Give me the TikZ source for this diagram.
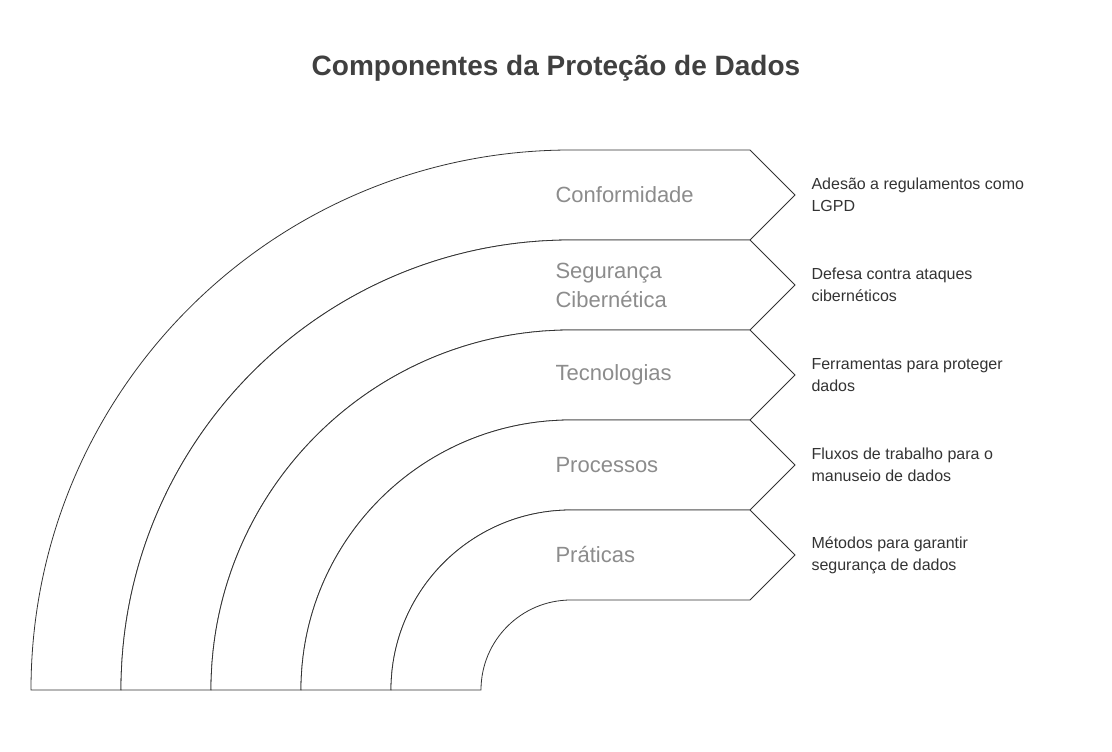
\documentclass[tikz,border=0pt]{standalone}
\usepackage{fontspec}
\setmainfont{Liberation Sans}
\begin{document}
\begin{tikzpicture}[x=1pt,y=1pt,
		band/.style={draw=black!80, line width=0.8pt, fill=white},
		bandlabel/.style={anchor=west, align=left, text=black!45, font=\fontsize{22}{29}\selectfont},
		desc/.style={anchor=west, align=left, text=black!80, font=\fontsize{16}{22}\selectfont}]
		\useasboundingbox (0,0) rectangle (1112,752);

		\node[font=\bfseries\fontsize{28}{34}\selectfont, text=black!75] (title) at (556,684) {Componentes da Proteção de Dados};

		\foreach \r in {540,450,360,270,180}
			\draw[band] (571-\r,62) arc (180:90:\r) -- (750,62+\r) -- (795,62+\r-45)
				-- (750,62+\r-90) -- (571,62+\r-90) arc (90:180:\r-90) -- cycle;

		\node[bandlabel] (conf) at (552,557) {Conformidade};
		\node[bandlabel] (seg) at (552,467) {Segurança\\Cibernética};
		\node[bandlabel] (tec) at (552,377) {Tecnologias};
		\node[bandlabel] (proc) at (552,287) {Processos};
		\node[bandlabel] (prat) at (552,197) {Práticas};

		\node[desc] (dconf) at (808,557) {Adesão a regulamentos como\\LGPD};
		\node[desc] (dseg) at (808,467) {Defesa contra ataques\\cibernéticos};
		\node[desc] (dtec) at (808,377) {Ferramentas para proteger\\dados};
		\node[desc] (dproc) at (808,287) {Fluxos de trabalho para o\\manuseio de dados};
		\node[desc] (dprat) at (808,197) {Métodos para garantir\\segurança de dados};
	\end{tikzpicture}
\end{document}
